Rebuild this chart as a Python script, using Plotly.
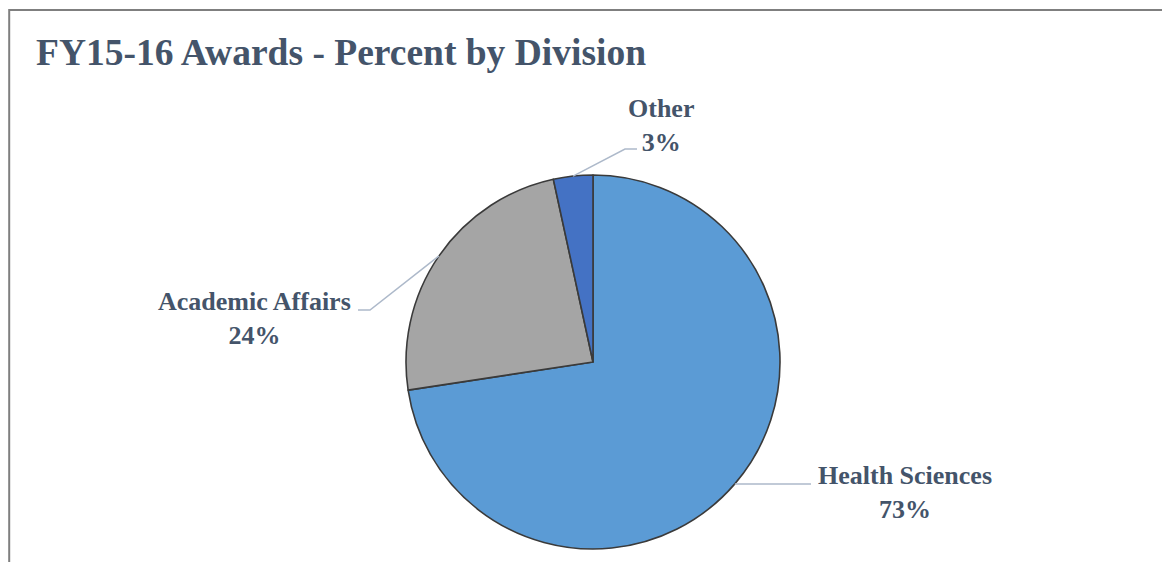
import math
import plotly.graph_objects as go

# ---- data ----
divisions = ["Health Sciences", "Academic Affairs", "Other"]
shares = [72.6, 24.0, 3.4]

# ---- style / layout ----
W, H = 1170, 562
OFF = 8  # page body margin: screen pixel = figure pixel + OFF
CX, CY, R = 593, 362, 187          # screen pixels
slice_colors = ["#5B9BD5", "#A5A5A5", "#4472C4"]
text_color = "#44546A"
leader_color = "#ADB9CA"
font_family = "Liberation Serif, Times New Roman, serif"
label_size = 26

# label placement (screen pixels): label block centre, leader elbow, leader end
label_layout = [
    dict(x=905, y=492, elbow=None, end=(811, None)),
    dict(x=254, y=318, elbow=(370, 310), end=(358, 310)),
    dict(x=661, y=125, elbow=(625, 149), end=(637, 149)),
]

total = sum(shares)
pct_text = [f"{round(v / total * 100)}%" for v in shares]

fig = go.Figure()
fig.add_trace(go.Pie(
    labels=divisions,
    values=shares,
    sort=False,
    direction="clockwise",
    rotation=0,
    textinfo="none",
    hoverinfo="label+percent",
    marker=dict(colors=slice_colors, line=dict(color="#3A3A3A", width=1.6)),
    domain=dict(x=[(CX - R - OFF) / W, (CX + R - OFF) / W],
                y=[(H - (CY - OFF) - R) / H, (H - (CY - OFF) + R) / H]),
    showlegend=False,
))

shapes = [dict(type="rect", xref="x", yref="y", x0=OFF + 1.2, y0=10, x1=W + 20, y1=H + 20,
               line=dict(color="#7F7F7F", width=2), fillcolor="rgba(0,0,0,0)", layer="above")]
annotations = []

cum = 0.0
for name, v, pct, lay in zip(divisions, shares, pct_text, label_layout):
    mid = (cum + v / 2) / total * 2 * math.pi
    cum += v
    sx = CX + R * math.sin(mid)
    sy = CY - R * math.cos(mid)
    if lay["elbow"] is None:
        ex, ey = lay["end"][0], sy
        shapes.append(dict(type="line", xref="x", yref="y", x0=sx, y0=sy, x1=ex, y1=ey,
                           line=dict(color=leader_color, width=1.5)))
    else:
        bx, by = lay["elbow"]
        ex, ey = lay["end"]
        shapes.append(dict(type="path", xref="x", yref="y",
                           path=f"M {sx},{sy} L {bx},{by} L {ex},{ey}",
                           line=dict(color=leader_color, width=1.5)))
    annotations.append(dict(x=lay["x"], y=lay["y"], xref="x", yref="y",
                            text=f"<b>{name}</b><br><b>{pct}</b>",
                            showarrow=False, xanchor="center", yanchor="middle", align="center",
                            font=dict(family=font_family, size=label_size, color=text_color)))

annotations.append(dict(x=34, y=52, xref="x", yref="y", text="<b>FY15-16 Awards - Percent by Division</b>",
                        showarrow=False, xanchor="left", yanchor="middle",
                        font=dict(family=font_family, size=37.5, color=text_color)))

fig.update_layout(
    width=W, height=H,
    margin=dict(l=0, r=0, t=0, b=0),
    paper_bgcolor="white", plot_bgcolor="rgba(0,0,0,0)",
    xaxis=dict(range=[OFF, W + OFF], visible=False, fixedrange=True),
    yaxis=dict(range=[H + OFF, OFF], visible=False, fixedrange=True),
    shapes=shapes,
    annotations=annotations,
)

fig.write_html("out.html")
